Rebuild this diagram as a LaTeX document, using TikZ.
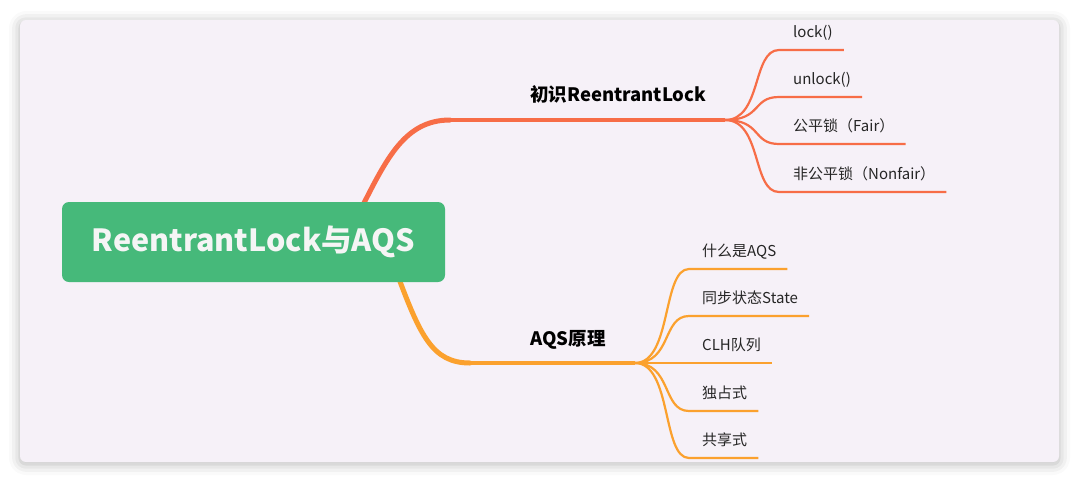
\documentclass[tikz,border=0pt]{standalone}
\usepackage{fontspec}
\setmainfont{Noto Sans CJK SC}
\usetikzlibrary{calc,positioning,backgrounds,shadows.blur}

\definecolor{cardbg}{HTML}{F6F1F8}
\definecolor{rootgreen}{HTML}{46B97A}
\definecolor{redbranch}{HTML}{F76D47}
\definecolor{orangebranch}{HTML}{FBA12E}
\definecolor{leaftext}{HTML}{262626}

\tikzset{%
         card/.style = { fill=cardbg, draw=none, rounded corners=6pt,
                         blur shadow={shadow xshift=0pt, shadow yshift=-2pt,
                         shadow blur radius=11pt, shadow opacity=30} },
      rootbox/.style = { fill=rootgreen, rounded corners=7pt, text=white!96!black,
                         font=\fontsize{30.5}{36}\selectfont\bfseries,
                         minimum width=383pt, minimum height=80pt, inner sep=0pt },
  branchlabel/.style = { anchor=base west, inner sep=0pt, text=black,
                         font=\fontsize{18.5}{22}\selectfont\bfseries },
    leaflabel/.style = { anchor=base west, inner sep=0pt, text=leaftext,
                         font=\fontsize{15}{18}\selectfont },
     redtrunk/.style = { redbranch, line width=5pt, line cap=round },
  orangetrunk/.style = { orangebranch, line width=5pt, line cap=round },
      redstem/.style = { redbranch, line width=3.5pt },
   orangestem/.style = { orangebranch, line width=3.5pt },
      redtwig/.style = { redbranch, line width=2.2pt },
   orangetwig/.style = { orangebranch, line width=2.2pt }
}

\begin{document}
\begin{tikzpicture}[x=1pt,y=-1pt]
\useasboundingbox (0,0) rectangle (1080,483);

% central topic
\node[rootbox] (root) at (253.5,242) {ReentrantLock与AQS};

% main branches
\node[branchlabel] (b1) at (530,101) {初识ReentrantLock};
\node[branchlabel] (b2) at (530,345) {AQS原理};
\coordinate (hub1) at (725,120);
\coordinate (hub2) at (635,363);
\coordinate (bend1) at (450,120);
\coordinate (bend2) at (470,363);

\begin{pgfonlayer}{background}
\fill[card] (20,20) rectangle (1059,462);
\draw[redtrunk] ($(root.north)+(106,10)$) .. controls (386,160) and (404,120) .. (bend1);
\draw[redstem] (bend1) -- (hub1);
\draw[orangetrunk] ($(root.south)+(143,-10)$) .. controls (420,335) and (432,363) .. (bend2);
\draw[orangestem] (bend2) -- (hub2);
\end{pgfonlayer}

% leaves of the first branch
\foreach \name/\ypos/\txt in {lk/50/lock(), ulk/97/unlock(),
    fair/144/公平锁（Fair）, unfair/192/非公平锁（Nonfair）}{
  \coordinate (\name-a) at (779,\ypos);
  \node[leaflabel] (\name) at (793,\ypos-13) {\txt};
  \draw[redtwig] (hub1) .. controls (762,120) and (752,\ypos) .. (\name-a)
    -- ($(\name.east |- \name-a)+(11,0)$);
}

% leaves of the second branch
\foreach \name/\ypos/\txt in {what/269/什么是AQS, state/316/同步状态State,
    clh/363/CLH队列, excl/411/独占式, share/458/共享式}{
  \coordinate (\name-a) at (689,\ypos);
  \node[leaflabel] (\name) at (702,\ypos-13) {\txt};
  \draw[orangetwig] (hub2) .. controls (672,363) and (662,\ypos) .. (\name-a)
    -- ($(\name.east |- \name-a)+(11,0)$);
}
\end{tikzpicture}
\end{document}
